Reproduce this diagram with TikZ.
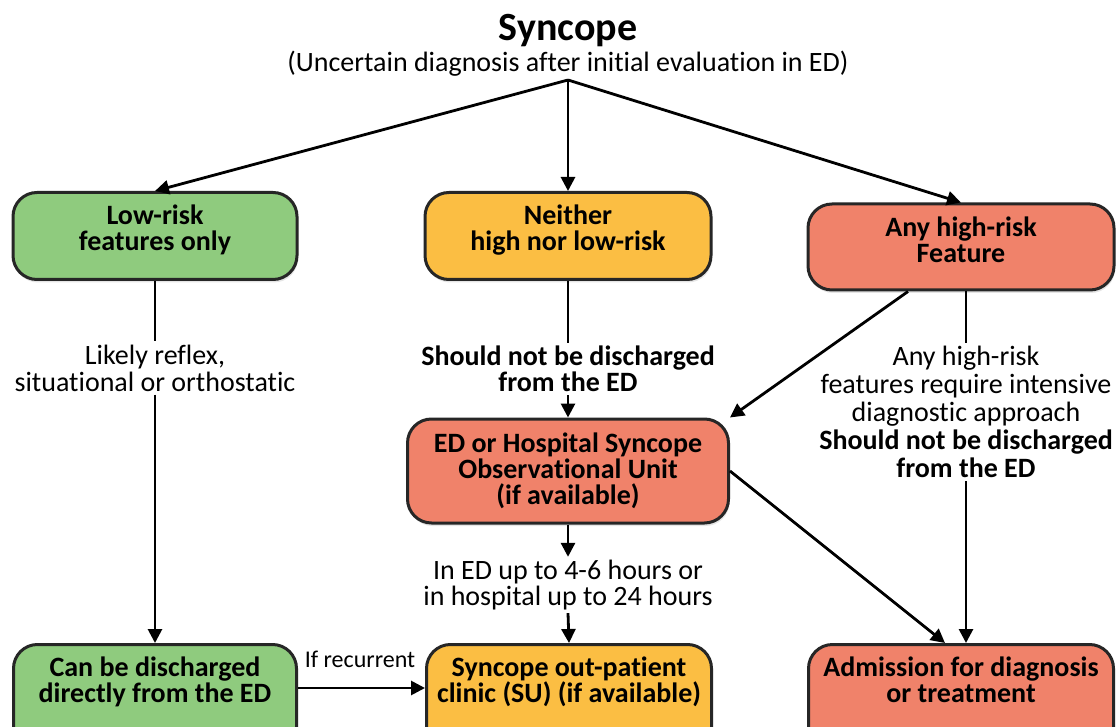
\documentclass[tikz,border=0pt]{standalone}
\usepackage{fontspec}
\setmainfont{Carlito}[Ligatures=NoCommon]
\usetikzlibrary{arrows.meta,shadows,calc}
\definecolor{lowgreen}{RGB}{143,203,126}
\definecolor{midyellow}{RGB}{251,190,67}
\definecolor{highred}{RGB}{240,130,106}
\begin{document}
\begin{tikzpicture}[x=1pt,y=-1pt,
  box/.style={draw=black!85, line width=3pt, rounded corners=24pt, align=center,
    font=\fontsize{28}{26}\selectfont\bfseries, inner sep=0pt,
    drop shadow={shadow xshift=1pt,shadow yshift=-3pt,opacity=0.2}},
  lab/.style={align=center, font=\fontsize{28}{27}\selectfont, inner sep=3pt},
  conn/.style={line width=2.8pt, black},
  arr/.style={conn, -{Triangle[length=14pt,width=14pt]}},
]
\useasboundingbox[fill=white] (0,0) rectangle (1116,727);

\node[font=\fontsize{40}{44}\selectfont\bfseries, inner sep=0pt, anchor=base] (title) at (568,41) {Syncope};
\node[font=\fontsize{28}{30}\selectfont, inner sep=0pt, anchor=base] (sub) at (568,72) {(Uncertain diagnosis after initial evaluation in ED)};

\node[box, fill=lowgreen, minimum width=284pt, minimum height=87pt, text depth=17pt] (low) at (155,236) {Low-risk\\features only};
\node[box, fill=midyellow, minimum width=286pt, minimum height=87pt, text depth=17pt] (mid) at (568,236) {Neither\\high nor low-risk};
\node[box, fill=highred, minimum width=306pt, minimum height=86pt, text depth=14pt] (high) at (961,247) {Any high-risk\\Feature};
\node[box, fill=highred, minimum width=321pt, minimum height=104pt] (ed) at (568,471) {ED or Hospital Syncope\\Observational Unit\\(if available)};
\node[box, fill=lowgreen, minimum width=283pt, anchor=north, inner ysep=12pt, text depth=45pt] (disc) at (155,643) {Can be discharged\\directly from the ED};
\node[box, fill=midyellow, minimum width=285pt, anchor=north, inner ysep=12pt, text depth=45pt] (su) at (569,643) {Syncope out-patient\\clinic (SU) (if available)};
\node[box, fill=highred, minimum width=305pt, anchor=north, inner ysep=12pt, text depth=45pt] (adm) at (961,643) {Admission for diagnosis\\or treatment};

\node[lab] (lowlab) at (155,368) {Likely reflex,\\situational or orthostatic};
\node[lab, font=\fontsize{28}{26}\selectfont\bfseries] (midlab) at (568,369) {Should not be discharged\\from the ED};
\node[lab, font=\fontsize{28}{28}\selectfont] (highlab) at (966,412) {Any high-risk\\features require intensive\\diagnostic approach\\\textbf{Should not be discharged}\\\textbf{from the ED}};
\node[lab, font=\fontsize{28}{26}\selectfont] (edlab) at (568,585) {In ED up to 4-6 hours or\\in hospital up to 24 hours};
\node[font=\fontsize{24}{26}\selectfont, inner sep=2pt] (rec) at (360,659) {If recurrent};

\coordinate (apex) at (568,80);
\draw[arr] (apex) -- (low.north);
\draw[arr] (apex) -- (mid.north);
\draw[arr] (apex) -- (high.north);
\draw[conn] (low) -- (lowlab);
\draw[arr] (lowlab) -- (disc.north);
\draw[conn] (mid) -- (midlab);
\draw[arr] (midlab) -- (ed);
\draw[arr] ([xshift=-53pt]high.south) -- (ed.north east);
\draw[conn] (high.south -| highlab.north) -- (highlab.north);
\draw[arr] (highlab.south) -- (highlab.south |- adm.north);
\draw[arr] (ed.south) -- (edlab.north);
\draw[arr] (edlab.south) -- (su.north);
\draw[arr] (ed.east) -- ([xshift=-16pt]adm.north);
\draw[arr] ([yshift=-45pt]disc.north east) -- ([yshift=-45pt]su.north west);
\end{tikzpicture}
\end{document}
